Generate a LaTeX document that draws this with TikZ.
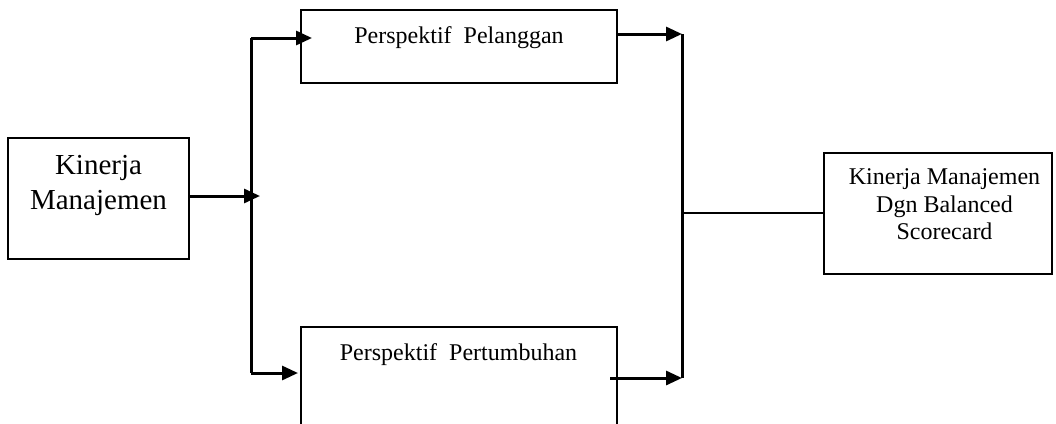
\documentclass[tikz,border=0pt]{standalone}
\usepackage{fontspec}
\setmainfont{Liberation Serif}
\usetikzlibrary{arrows.meta}
\begin{document}
\begin{tikzpicture}[x=1pt,y=-1pt,
  boxst/.style={draw=black,line width=1.6pt,inner sep=0pt,rectangle},
  bigtext/.style={font=\fontsize{29}{35}\selectfont,align=center,inner sep=0pt},
  smalltext/.style={font=\fontsize{24}{27.5}\selectfont,align=center,inner sep=0pt},
  conn/.style={line width=3pt},
  arr/.style={conn,-{Triangle[length=16pt,width=14pt]}}]
\useasboundingbox (0,0) rectangle (1056,423);
\clip (0,0) rectangle (1056,423);
% boxes
\node[boxst,minimum width=181pt,minimum height=121pt] (k) at (98.5,198.5) {};
\node[boxst,minimum width=316pt,minimum height=73pt] (pel) at (459,46.5) {};
\node[boxst,minimum width=316pt,minimum height=120pt] (per) at (459,387) {};
\node[boxst,minimum width=228pt,minimum height=121pt] (r) at (938,213.5) {};
% texts
\node[bigtext] (kt) at (98.5,185.7) {Kinerja\\Manajemen};
\node[smalltext,anchor=base] (pelt) at (459,43) {Perspektif\ \ Pelanggan};
\node[smalltext,anchor=base] (pert) at (458.5,360) {Perspektif\ \ Pertumbuhan};
\node[smalltext] (rt) at (944.5,204.2) {Kinerja Manajemen\\Dgn Balanced\\Scorecard};
% coordinates
\coordinate (lt) at (251,38);
\coordinate (lb) at (251,373);
\coordinate (lm) at (260,196);
\coordinate (rtop) at (682,34);
\coordinate (rbot) at (682,378);
\coordinate (rm) at (682,213);
\coordinate (pelin) at (312,38);
\coordinate (perin) at (298,373);
\coordinate (perout) at (610,378);
% connectors
\draw[arr] (k.east |- lm) -- (lm);
\draw[conn] (lt) -- (lb);
\draw[arr] (lt) -- (pelin);
\draw[arr] (lb) -- (perin);
\draw[arr] (pel.east |- rtop) -- (rtop);
\draw[arr] (perout) -- (rbot);
\draw[conn] (rtop) -- (rbot);
\draw[line width=2.2pt] (rm) -- (r.west |- rm);
\end{tikzpicture}
\end{document}
